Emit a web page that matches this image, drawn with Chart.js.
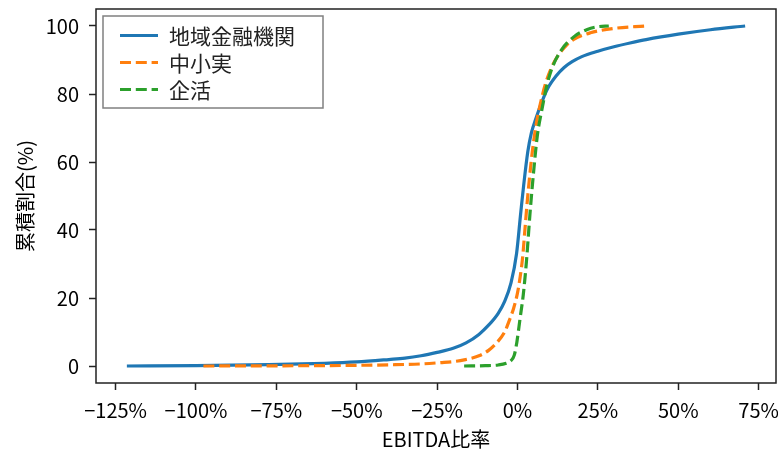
<!DOCTYPE html>
<html>
<head>
<meta charset="utf-8">
<script src="https://cdn.jsdelivr.net/npm/chart.js@4/dist/chart.umd.min.js"></script>
<style>
  body { margin: 0; background: #fff; }
  canvas { display: block; }
</style>
</head>
<body>
<canvas id="cdfChart" width="778" height="453"></canvas>
<script>
// 累積分布 (EBITDA比率, %)
const seriesNames = ['地域金融機関', '中小実', '企活'];

const regionalX = [-121.5, -100, -77.5, -60, -50, -40, -35, -30, -25, -20, -16, -12, -9, -6, -4, -2, -0.3, 1.0, 1.9, 3.2, 4.3, 5.8, 7.5, 9.3, 12, 14.5, 17, 20, 25, 30, 35, 40, 50, 60, 70.8];
const regionalY = [0, 0.1, 0.4, 0.8, 1.2, 1.9, 2.3, 3.0, 4.0, 5.2, 6.8, 9.3, 12, 15.5, 19, 24.5, 33, 45, 53, 63, 68.5, 73, 77.5, 81.5, 85.3, 87.8, 89.5, 91, 92.6, 93.9, 95, 96, 97.6, 98.9, 100];

const smeX = [-97.7, -75, -50, -40, -30, -23.8, -20, -16.6, -12, -9, -6.5, -4, -2.5, -1.2, 0, 0.8, 1.6, 2.3, 3.0, 3.8, 4.6, 5.8, 7.2, 8.7, 10.3, 12.4, 15.5, 17.5, 22.7, 30, 39.8];
const smeY = [0, 0.05, 0.2, 0.35, 0.6, 1.0, 1.3, 1.8, 3.0, 4.6, 6.8, 10, 13.5, 17, 21.5, 26, 32, 40, 48, 56, 63, 71, 77.5, 83, 87.2, 91, 94.6, 96.1, 98, 99.3, 100];

const corpX = [-16.6, -10, -6, -3.5, -2, -1, -0.2, 0.8, 1.8, 2.8, 3.9, 5.0, 6.2, 7.5, 9.0, 10.5, 13.4, 17.5, 21.7, 25, 28.4];
const corpY = [0, 0.1, 0.3, 0.8, 1.6, 3.2, 7, 14, 21, 31, 45, 57, 68, 75, 82, 87, 92.6, 96.8, 99, 99.8, 100];

const xTicks = [-125, -100, -75, -50, -25, 0, 25, 50, 75];
const yTicks = [0, 20, 40, 60, 80, 100];

const toPoints = (xs, ys) => xs.map((x, i) => ({ x: x, y: ys[i] }));

const FONT = '"Noto Sans CJK JP", "Noto Sans", sans-serif';
const TEXT = '#000';
const DASH = [11, 4.8];

// axes frame on all four sides, then the boxed legend in the upper left
const framePlugin = {
  id: 'frame',
  afterDatasetsDraw(chart) {
    const { ctx, chartArea: a } = chart;
    ctx.save();
    ctx.strokeStyle = '#222';
    ctx.lineWidth = 1.5;
    ctx.strokeRect(a.left, a.top, a.right - a.left, a.bottom - a.top);
    ctx.restore();
  }
};

const boxLegend = {
  id: 'boxLegend',
  afterDraw(chart) {
    const ctx = chart.ctx;
    const sets = chart.data.datasets;
    const x0 = 103, y0 = 16, w = 220, h = 92;
    ctx.save();
    ctx.fillStyle = 'rgba(255,255,255,0.85)';
    ctx.fillRect(x0, y0, w, h);
    ctx.strokeStyle = '#808080';
    ctx.lineWidth = 1.5;
    ctx.strokeRect(x0, y0, w, h);
    ctx.font = '21px ' + FONT;
    ctx.textBaseline = 'middle';
    sets.forEach((ds, i) => {
      const cy = 35.5 + i * 27;
      ctx.strokeStyle = ds.borderColor;
      ctx.lineWidth = 2.8;
      ctx.setLineDash(ds.borderDash || []);
      ctx.beginPath();
      ctx.moveTo(120, cy);
      ctx.lineTo(158, cy);
      ctx.stroke();
      ctx.setLineDash([]);
      ctx.fillStyle = '#222';
      ctx.fillText(ds.label, 169, cy + 1);
    });
    ctx.restore();
  }
};

const minus = v => (v < 0 ? '\u2212' + Math.abs(v) : String(v));

// keep the plot box fixed: no extra room reserved for overhanging tick labels
const noOverhang = s => {
  s.paddingLeft = 0;
  s.paddingRight = 0;
  s.paddingTop = 0;
  s.paddingBottom = 0;
};

new Chart(document.getElementById('cdfChart'), {
  type: 'line',
  data: {
    datasets: [
      {
        label: seriesNames[0],
        data: toPoints(regionalX, regionalY),
        borderColor: '#1f77b4',
        borderWidth: 3.2,
        order: 3
      },
      {
        label: seriesNames[1],
        data: toPoints(smeX, smeY),
        borderColor: '#ff7f0e',
        borderWidth: 3.2,
        borderDash: DASH,
        order: 2
      },
      {
        label: seriesNames[2],
        data: toPoints(corpX, corpY),
        borderColor: '#2ca02c',
        borderWidth: 3.2,
        borderDash: DASH,
        order: 1
      }
    ]
  },
  options: {
    responsive: false,
    animation: false,
    elements: {
      point: { radius: 0 },
      line: { cubicInterpolationMode: 'monotone', fill: false }
    },
    layout: { padding: { top: 9, right: 2, left: 0, bottom: 0 } },
    plugins: {
      legend: { display: false },
      tooltip: { enabled: false }
    },
    scales: {
      x: {
        type: 'linear',
        min: -131.1,
        max: 80.4,
        afterBuildTicks: s => { s.ticks = xTicks.map(v => ({ value: v })); },
        afterFit: s => { s.height = 70; noOverhang(s); },
        border: { display: false },
        grid: { drawOnChartArea: false, drawTicks: true, tickLength: 7, tickColor: '#222', tickWidth: 1.5 },
        ticks: {
          autoSkip: false,
          maxRotation: 0,
          padding: 8,
          color: TEXT,
          font: { family: FONT, size: 20 },
          callback: v => minus(v) + '%'
        },
        title: {
          display: true,
          text: 'EBITDA比率',
          color: TEXT,
          font: { family: FONT, size: 20 },
          padding: { top: 0, bottom: 2 }
        }
      },
      y: {
        type: 'linear',
        min: -5,
        max: 105,
        afterBuildTicks: s => { s.ticks = yTicks.map(v => ({ value: v })); },
        afterFit: s => { s.width = 96; noOverhang(s); },
        border: { display: false },
        grid: { drawOnChartArea: false, drawTicks: true, tickLength: 7, tickColor: '#222', tickWidth: 1.5 },
        ticks: {
          autoSkip: false,
          padding: 10,
          color: TEXT,
          font: { family: FONT, size: 20 },
          callback: v => minus(v)
        },
        title: {
          display: true,
          text: '累積割合(%)',
          color: TEXT,
          font: { family: FONT, size: 20 },
          padding: { top: 13, bottom: 0 }
        }
      }
    }
  },
  plugins: [framePlugin, boxLegend]
});
</script>
</body>
</html>
